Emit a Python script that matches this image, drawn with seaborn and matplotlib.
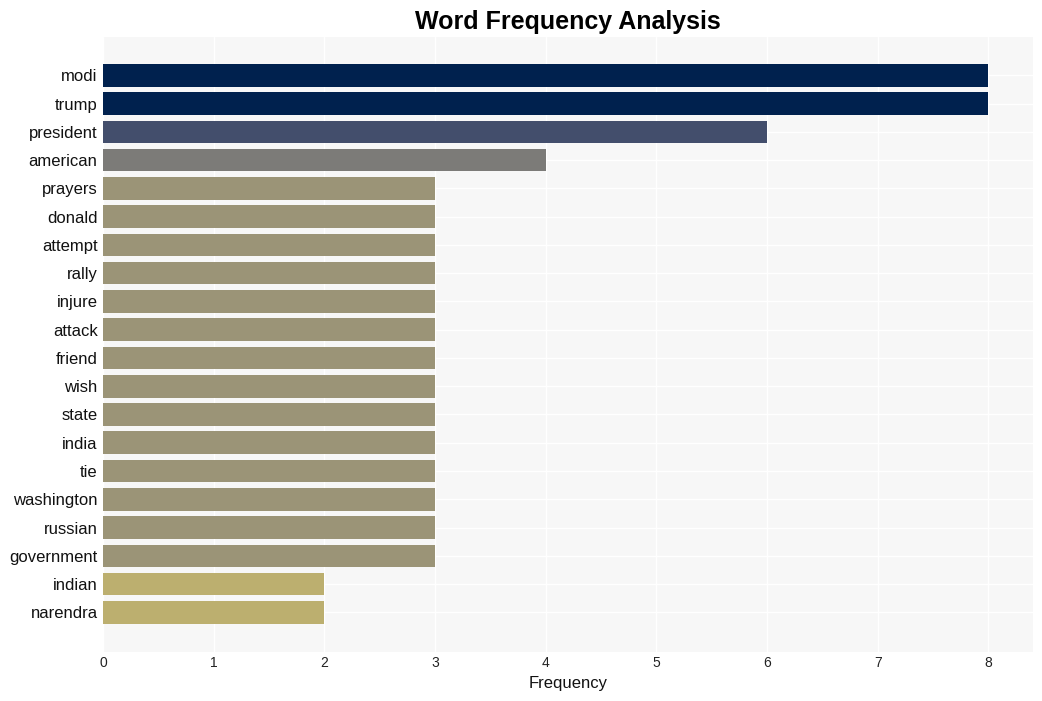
import matplotlib
matplotlib.use("Agg")
import matplotlib.pyplot as plt
import seaborn as sns
import pandas as pd

words = ["modi", "trump", "president", "american", "prayers", "donald", "attempt",
         "rally", "injure", "attack", "friend", "wish", "state", "india", "tie",
         "washington", "russian", "government", "indian", "narendra"]
freqs = [8, 8, 6, 4, 3, 3, 3, 3, 3, 3, 3, 3, 3, 3, 3, 3, 3, 3, 2, 2]
value_colors = {8: "#00214e", 6: "#434e6c", 4: "#7c7b78", 3: "#9b9477", 2: "#bcaf6f"}

df = pd.DataFrame({"word": words, "freq": freqs})
palette = {w: value_colors[f] for w, f in zip(words, freqs)}

sns.set_theme(style="whitegrid")
plt.rcParams["font.family"] = ["Liberation Sans", "DejaVu Sans"]

fig = plt.figure(figsize=(10.42, 7.01), dpi=100)
ax = fig.add_axes([0.099, 0.070, 0.892, 0.877])
ax.set_facecolor("#f7f7f7")
sns.barplot(data=df, x="freq", y="word", hue="word", palette=palette,
            legend=False, ax=ax, width=0.8, saturation=1, edgecolor="none", linewidth=0)
ax.grid(True, color="white", linewidth=1)
ax.set_axisbelow(True)
for s in ax.spines.values():
    s.set_visible(False)
ax.set_xlim(0, 8.4)
ax.set_ylim(len(words) - 1 + 1.4, -1.35)
ax.set_xticks(range(0, 9))
ax.tick_params(axis="x", labelsize=10, colors="#222222", pad=3, length=0)
ax.tick_params(axis="y", labelsize=12, colors="#111111", pad=4, length=0)
ax.set_xlabel("Frequency", fontsize=12, color="#111111", labelpad=4)
ax.set_ylabel("")
ax.set_title("Word Frequency Analysis", fontsize=18, fontweight="bold", color="black", pad=6)
fig.savefig("out.png", dpi=100, facecolor="white")
